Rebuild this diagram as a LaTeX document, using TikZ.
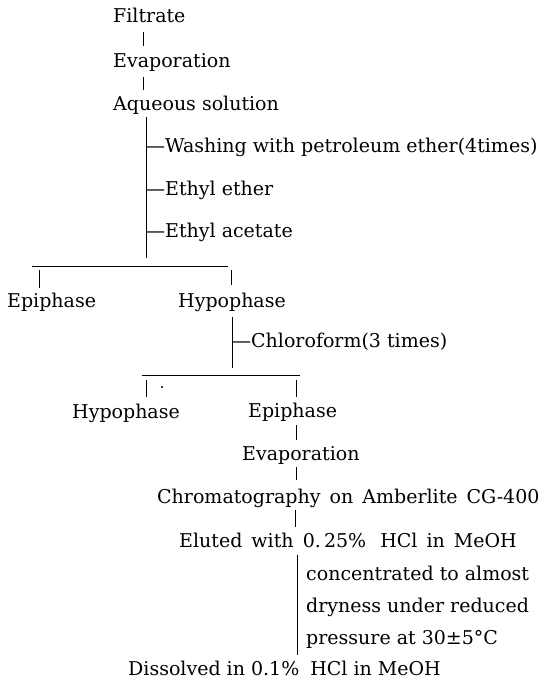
\documentclass[tikz,border=0pt]{standalone}
\usepackage{fontspec}
\setmainfont{DejaVu Serif}
\newfontfamily\widesp[WordSpace=1.5]{DejaVu Serif}
\begin{document}
\begin{tikzpicture}[x=1pt,y=-1pt,
  lbl/.style={anchor=base west,inner sep=0pt,font=\fontsize{19}{23}\selectfont},
  wlbl/.style={lbl,font=\fontsize{19}{23}\widesp},
  conn/.style={line width=0.9pt}]
\useasboundingbox (0,0) rectangle (542,680);
% texts
\node[lbl] (filt) at (113,23) {Filtrate};
\node[lbl] (evapA) at (113,67) {Evaporation};
\node[lbl] (aq) at (113,110) {Aqueous solution};
\node[lbl] (wash) at (146,152) {---Washing with petroleum ether(4times)};
\node[lbl] (ethe) at (146,195) {---Ethyl ether};
\node[lbl] (etac) at (146,237) {---Ethyl acetate};
\node[lbl] (epiA) at (7,307) {Epiphase};
\node[lbl] (hypA) at (178,307) {Hypophase};
\node[lbl] (chl) at (232,347) {---Chloroform(3 times)};
\node[lbl] (hypB) at (72,418) {Hypophase};
\node[lbl] (epiB) at (248,417) {Epiphase};
\node[lbl] (evapB) at (242,460) {Evaporation};
\node[wlbl] (chrom) at (157,503) {Chromatography on Amberlite CG-400};
\node[wlbl] (elut) at (179,547) {Eluted with 0.\,25\%\hspace{5pt} HCl in MeOH};
\node[lbl] (conc) at (306,580) {concentrated to almost};
\node[lbl] (dry) at (306,612) {dryness under reduced};
\node[lbl] (pres) at (306,644) {pressure at 30±5°C};
\node[lbl] (diss) at (128,675) {Dissolved in 0.1\%\hspace{5pt} HCl in MeOH};
% connector end points
\coordinate (l1a) at (143,32); \coordinate (l1b) at (143,46);
\coordinate (l2a) at (143,77); \coordinate (l2b) at (143,90);
\coordinate (l3a) at (146,117); \coordinate (l3b) at (146,258);
\coordinate (h1a) at (32,266); \coordinate (h1b) at (228,266);
\coordinate (t1a) at (39,270); \coordinate (t1b) at (39,288);
\coordinate (t2a) at (231,270); \coordinate (t2b) at (231,285);
\coordinate (l4a) at (232,317); \coordinate (l4b) at (232,368);
\coordinate (h2a) at (142,375); \coordinate (h2b) at (300,375);
\coordinate (t3a) at (146,380); \coordinate (t3b) at (146,397);
\coordinate (t4a) at (296,380); \coordinate (t4b) at (296,397);
\coordinate (l5a) at (296,425); \coordinate (l5b) at (296,440);
\coordinate (l6a) at (296,467); \coordinate (l6b) at (296,480);
\coordinate (l7a) at (295,510); \coordinate (l7b) at (295,527);
\coordinate (l8a) at (297,555); \coordinate (l8b) at (297,655);
\coordinate (dot) at (162,387);
% connectors
\draw[conn] (l1a) -- (l1b);
\draw[conn] (l2a) -- (l2b);
\draw[conn] (l3a) -- (l3b);
\draw[conn] (h1a) -- (h1b);
\draw[conn] (t1a) -- (t1b);
\draw[conn] (t2a) -- (t2b);
\draw[conn] (l4a) -- (l4b);
\draw[conn] (h2a) -- (h2b);
\draw[conn] (t3a) -- (t3b);
\draw[conn] (t4a) -- (t4b);
\draw[conn] (l5a) -- (l5b);
\draw[conn] (l6a) -- (l6b);
\draw[conn] (l7a) -- (l7b);
\draw[conn] (l8a) -- (l8b);
\fill (dot) circle (1.2pt);
\end{tikzpicture}
\end{document}
